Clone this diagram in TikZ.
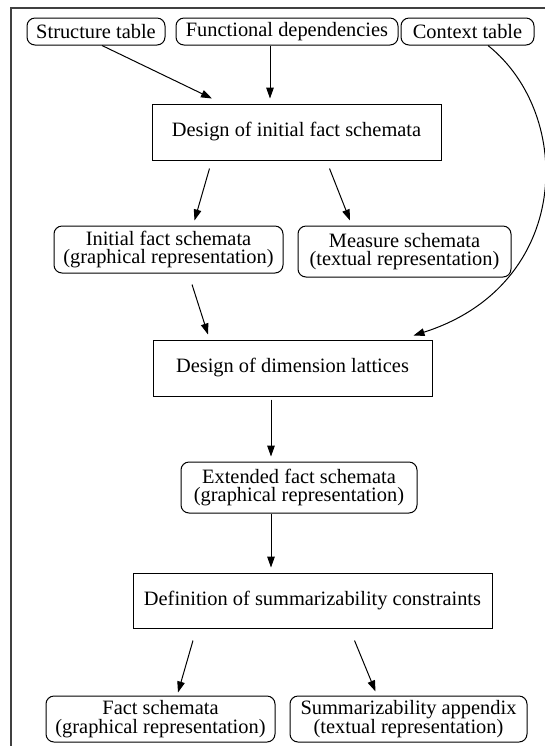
\documentclass[tikz,border=0pt]{standalone}
\usepackage{fontspec}
\setmainfont{Liberation Serif}
\usetikzlibrary{arrows.meta}

\tikzset{
  docbox/.style={draw,rounded corners=4pt,align=center,inner sep=0pt,line width=0.5pt},
  taskbox/.style={draw,align=center,inner sep=0pt,line width=0.5pt},
  flow/.style={-{Triangle[length=5.5pt,width=3.8pt]},line width=0.5pt},
}

\begin{document}
\begin{tikzpicture}[x=0.5pt,y=-0.5pt,font=\fontsize{10.2}{9.4}\selectfont]
        \useasboundingbox (0,0) rectangle (545,746);
        \draw[line width=0.6pt,black!75] (545,8) -- (11,8) -- (11,746);

        % inputs
        \node[docbox,minimum width=69pt,minimum height=13.5pt] (struct) at (96,31.5) {Structure table};
        \node[docbox,minimum width=111pt,minimum height=13.5pt] (func) at (287,31.5) {Functional dependencies};
        \node[docbox,minimum width=66.5pt,minimum height=13.5pt] (ctx) at (467.5,31.5) {Context table};

        \node[taskbox,minimum width=144.5pt,minimum height=28pt] (init) at (296.5,132) {Design of initial fact schemata};

        \node[docbox,minimum width=114.5pt,minimum height=23.5pt] (ifs) at (168.5,249.5) {Initial fact schemata\\(graphical representation)};
        \node[docbox,minimum width=106.5pt,minimum height=25.5pt] (meas) at (404.5,251.5) {Measure schemata\\(textual representation)};

        \node[taskbox,minimum width=139.5pt,minimum height=28pt] (dim) at (292.5,368) {Design of dimension lattices};

        \node[docbox,minimum width=118pt,minimum height=25.5pt] (ext) at (299,487.5) {Extended fact schemata\\(graphical representation)};

        \node[taskbox,minimum width=179.5pt,minimum height=27.5pt] (def) at (312.5,600.5) {Definition of summarizability constraints};

        % outputs
        \node[docbox,minimum width=114.5pt,minimum height=23pt] (fact) at (160.5,719) {Fact schemata\\(graphical representation)};
        \node[docbox,minimum width=118.5pt,minimum height=23pt] (app) at (408.5,719) {Summarizability appendix\\(textual representation)};

        \draw[flow] ([shift={(6,0)}]struct.south) -- ([shift={(-84.5,-5)}]init.north);
        \draw[flow] ([shift={(-17,0)}]func.south) -- ([shift={(-26.5,-5)}]init.north);
        \draw[flow] ([shift={(20.5,0)}]ctx.south) .. controls (575,115) and (572,285) .. ([shift={(-19,-4)}]dim.north east);

        \draw[flow] ([shift={(-87,8)}]init.south) -- ([shift={(26,-5)}]ifs.north);
        \draw[flow] ([shift={(33,8)}]init.south) -- ([shift={(-54.5,-5)}]meas.north);
        \draw[flow] ([shift={(23.5,11)}]ifs.south) -- ([shift={(-84.5,-5)}]dim.north);

        \draw[flow] ([shift={(-21.5,3)}]dim.south) -- ([shift={(-28,-5)}]ext.north);
        \draw[flow] ([shift={(-28,0)}]ext.south) -- ([shift={(-41.5,-5)}]def.north);

        \draw[flow] ([shift={(-119.5,12)}]def.south) -- ([shift={(17.5,-3)}]fact.north);
        \draw[flow] ([shift={(42,12)}]def.south) -- ([shift={(-33,-4)}]app.north);
      \end{tikzpicture}
\end{document}
